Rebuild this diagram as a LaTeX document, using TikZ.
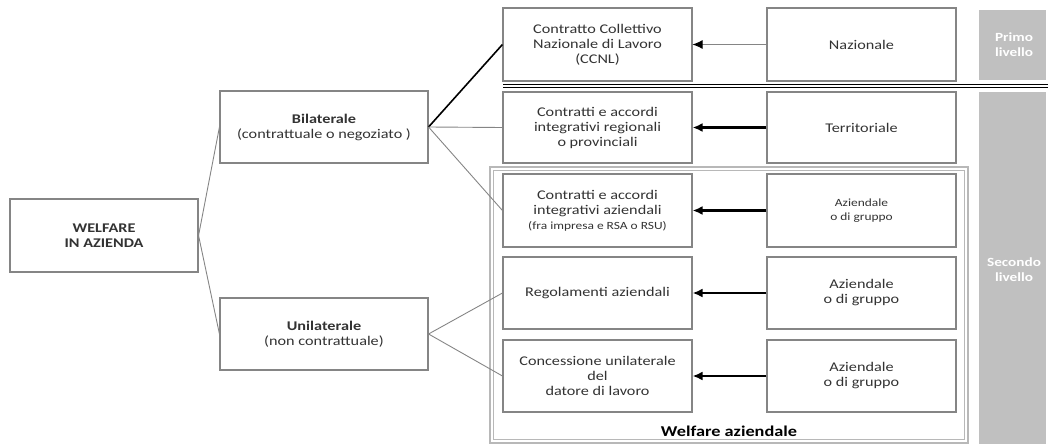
\documentclass[tikz,border=0pt]{standalone}
\usepackage{fontspec}
\setmainfont{Carlito}[FakeStretch=1.22]
\usetikzlibrary{arrows.meta}
\definecolor{boxline}{HTML}{858585}
\definecolor{txt}{HTML}{333333}
\definecolor{lvl}{HTML}{C0C0C0}
\definecolor{frameg}{HTML}{B8B8B8}
\begin{document}
\begin{tikzpicture}[x=1pt,y=-1pt,
  bx/.style={draw=boxline,line width=1.1pt,fill=white,minimum width=189pt,minimum height=72pt,
    align=center,text=txt,inner sep=1pt,font=\fontsize{13.3}{15}\selectfont},
  conn/.style={draw=boxline,line width=0.9pt},
  thickconn/.style={draw=black,line width=1.6pt},
  arr/.style={line width=2.2pt,black,-{Latex[length=10pt,width=9pt]}},
  thinarr/.style={line width=0.9pt,draw=boxline,-{Latex[length=10pt,width=9pt,fill=black,color=black]}},
  lvltxt/.style={text=white,align=center,font=\fontsize{12.5}{15}\selectfont\bfseries}]
\useasboundingbox (0,0) rectangle (1048,444);
% level bars
\fill[lvl] (979,10) rectangle (1046,80);
\fill[lvl] (979,92) rectangle (1046,444);
\node[lvltxt] (primo) at (1014,45) {Primo\\livello};
\node[lvltxt] (secondo) at (1014,270) {Secondo\\livello};
% separator double line
\draw[black,line width=0.9pt] (503,84.8) -- (1048,84.8);
\draw[black,line width=0.9pt] (503,87.6) -- (1048,87.6);
% welfare aziendale frame
\draw[frameg,line width=1.1pt] (490,167) rectangle (968,443);
\draw[frameg,line width=0.9pt] (493.5,170.5) rectangle (964.5,439.5);
\node[text=black,font=\fontsize{15}{17}\selectfont\bfseries] (wa) at (729,431) {Welfare aziendale};
% left boxes
\node[bx,minimum width=188pt,minimum height=73pt] (welf) at (104,235.5) {\bfseries WELFARE\\\bfseries IN AZIENDA};
\node[bx,minimum width=208pt] (bil) at (324,127) {\textbf{Bilaterale}\\(contrattuale o negoziato )};
\node[bx,minimum width=208pt] (uni) at (324,334) {\textbf{Unilaterale}\\(non contrattuale)};
% middle column
\node[bx,minimum height=73pt] (ccnl) at (597.5,44.5) {Contratto Collettivo\\Nazionale di Lavoro\\(CCNL)};
\node[bx,minimum height=71pt] (reg) at (597.5,127.5) {Contratti e accordi\\integrativi regionali\\o provinciali};
\node[bx,minimum height=73pt] (azc) at (597.5,210.5) {Contratti e accordi\\integrativi aziendali\\{\fontsize{11}{13}\selectfont (fra impresa e RSA o RSU)}};
\node[bx] (rego) at (597.5,293) {Regolamenti aziendali};
\node[bx] (conc) at (597.5,376) {Concessione unilaterale\\del\\datore di lavoro};
% right column
\node[bx,minimum height=73pt] (naz) at (861.5,44.5) {Nazionale};
\node[bx,minimum height=71pt] (ter) at (861.5,127.5) {Territoriale};
\node[bx,minimum height=73pt,font=\fontsize{11}{14}\selectfont] (az1) at (861.5,210.5) {Aziendale\\o di gruppo};
\node[bx] (az2) at (861.5,293) {Aziendale\\o di gruppo};
\node[bx] (az3) at (861.5,376) {Aziendale\\o di gruppo};
% connectors
\draw[conn] (welf.east) -- (bil.west);
\draw[conn] (welf.east) -- (uni.west);
\draw[thickconn] (bil.east) -- (ccnl.west);
\draw[conn] (bil.east) -- (reg.west);
\draw[conn] (bil.east) -- (azc.west);
\draw[conn] (uni.east) -- (rego.west);
\draw[conn] (uni.east) -- (conc.west);
% arrows
\draw[thinarr] (naz.west) -- (ccnl.east);
\draw[arr] (ter.west) -- (reg.east);
\draw[arr] (az1.west) -- (azc.east);
\draw[arr] (az2.west) -- (rego.east);
\draw[arr] (az3.west) -- (conc.east);
\end{tikzpicture}
\end{document}
